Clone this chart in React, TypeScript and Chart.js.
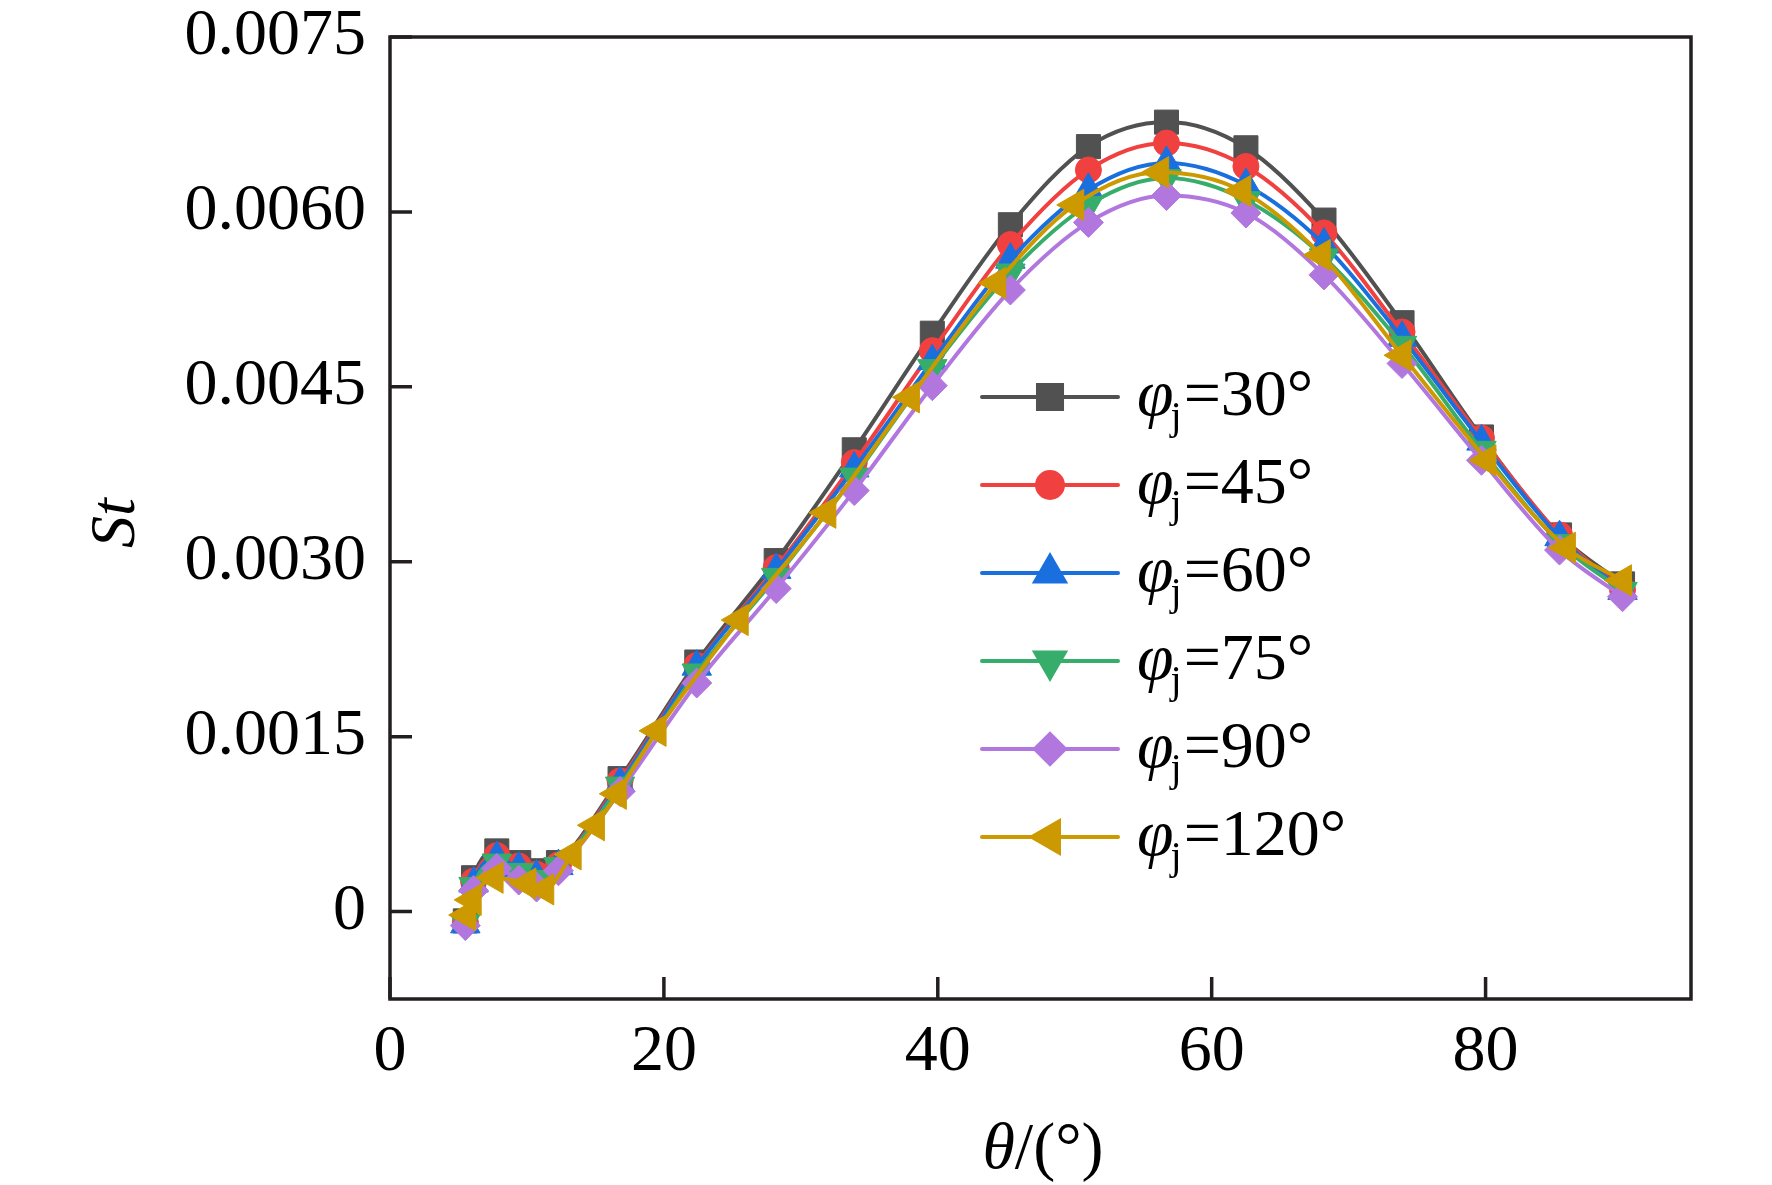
import { useEffect, useRef } from 'react';
import { Chart, registerables } from 'chart.js';
import type { Plugin } from 'chart.js';
import { drawPoint } from 'chart.js/helpers';

Chart.register(...registerables);

const SERIF = '"Liberation Serif", "Times New Roman", serif';
const AXIS = '#231f20';

// theta (deg) for the first five series
const THETA_MAIN = [5.5, 6.1, 7.8, 9.4, 10.7, 12.3, 16.8, 22.4, 28.2, 33.9, 39.6, 45.3, 51.0, 56.7, 62.5, 68.2, 73.9, 79.7, 85.4, 90.0];
const ST_30 = [-0.00008, 0.00029, 0.00052, 0.00042, 0.00035, 0.00042, 0.00114, 0.00214, 0.00301, 0.00396, 0.00496, 0.00589, 0.00656, 0.00677, 0.00655, 0.00593, 0.00505, 0.00407, 0.00323, 0.00281];
const ST_45 = [-0.00009, 0.00026, 0.00048, 0.00039, 0.00032, 0.0004, 0.00112, 0.00211, 0.00295, 0.00385, 0.00481, 0.00572, 0.00636, 0.00659, 0.00639, 0.00582, 0.00497, 0.00406, 0.00323, 0.00276];
const ST_60 = [-0.00011, 0.00024, 0.00046, 0.00037, 0.0003, 0.00039, 0.0011, 0.0021, 0.00293, 0.0038, 0.00472, 0.00559, 0.00619, 0.00642, 0.00623, 0.00572, 0.00492, 0.00403, 0.00321, 0.00275];
const ST_75 = [-0.0001, 0.00022, 0.00042, 0.00034, 0.00028, 0.00039, 0.00108, 0.00205, 0.00287, 0.00373, 0.00466, 0.00548, 0.00606, 0.00629, 0.0061, 0.00561, 0.00486, 0.00396, 0.00316, 0.00275];
const ST_90 = [-0.00012, 0.00018, 0.00037, 0.00027, 0.00021, 0.00035, 0.00103, 0.00196, 0.00277, 0.00361, 0.00451, 0.00533, 0.00591, 0.00614, 0.00599, 0.00546, 0.0047, 0.00387, 0.0031, 0.0027];

// phi_j = 120 deg has its own theta grid
const THETA_120 = [5.6, 6.0, 7.6, 10.0, 11.3, 13.3, 15.0, 16.6, 19.5, 25.5, 31.9, 38.0, 44.3, 50.0, 56.2, 62.2, 68.0, 73.9, 80.1, 85.9, 90.0];
const ST_120 = [-0.00003, 0.0001, 0.00029, 0.00024, 0.00019, 0.00049, 0.00074, 0.00101, 0.00155, 0.0025, 0.00342, 0.00441, 0.00539, 0.00606, 0.00634, 0.00618, 0.00563, 0.00477, 0.00387, 0.00312, 0.00284];

const PHI_LABELS = ['30°', '45°', '60°', '75°', '90°', '120°'];
const X_TICKS = [0, 20, 40, 60, 80];
const Y_TICKS = [0, 0.0015, 0.003, 0.0045, 0.006, 0.0075];

const SERIES = [
  { x: THETA_MAIN, y: ST_30, color: '#515151', style: 'rect', rot: 0, r: 17 },
  { x: THETA_MAIN, y: ST_45, color: '#F14040', style: 'circle', rot: 0, r: 13 },
  { x: THETA_MAIN, y: ST_60, color: '#1A6FDF', style: 'triangle', rot: 0, r: 17 },
  { x: THETA_MAIN, y: ST_75, color: '#37AD6B', style: 'triangle', rot: 180, r: 17 },
  { x: THETA_MAIN, y: ST_90, color: '#B177DE', style: 'rectRot', rot: 0, r: 15 },
  { x: THETA_120, y: ST_120, color: '#CC9900', style: 'triangle', rot: -90, r: 18 }
];

const decor: Plugin<'line'> = {
  id: 'decor',
  afterDatasetsDraw(chart) {
    const { ctx, chartArea: a, scales } = chart;
    ctx.save();
    ctx.strokeStyle = AXIS;
    ctx.lineWidth = 3.5;

    // ticks pointing inwards, left and bottom only
    ctx.beginPath();
    for (const v of Y_TICKS) {
      const y = scales.y.getPixelForValue(v);
      ctx.moveTo(a.left, y);
      ctx.lineTo(a.left + 22, y);
    }
    for (const v of X_TICKS) {
      const x = scales.x.getPixelForValue(v);
      ctx.moveTo(x, a.bottom);
      ctx.lineTo(x, a.bottom - 22);
    }
    ctx.stroke();
    ctx.strokeRect(a.left, a.top, a.right - a.left, a.bottom - a.top);

    // legend
    SERIES.forEach((s, i) => {
      const cy = 397 + i * 88;
      ctx.strokeStyle = s.color;
      ctx.fillStyle = s.color;
      ctx.lineWidth = 4;
      ctx.lineCap = 'round';
      ctx.beginPath();
      ctx.moveTo(982, cy);
      ctx.lineTo(1118, cy);
      ctx.stroke();
      drawPoint(ctx, { pointStyle: s.style as never, rotation: s.rot, radius: s.r, borderWidth: 1 }, 1050, cy);

      ctx.fillStyle = '#000';
      ctx.textAlign = 'left';
      ctx.textBaseline = 'alphabetic';
      let tx = 1137;
      const base = cy + 18;
      ctx.font = `italic 66px ${SERIF}`;
      ctx.fillText('φ', tx, base);
      tx += ctx.measureText('φ').width - 3;
      ctx.font = `40px ${SERIF}`;
      ctx.fillText('j', tx, base + 14);
      tx += ctx.measureText('j').width + 2;
      ctx.font = `66px ${SERIF}`;
      ctx.fillText('=' + PHI_LABELS[i], tx, base);
    });

    // axis titles
    ctx.fillStyle = '#000';
    ctx.save();
    ctx.translate(117, 523);
    ctx.rotate(-Math.PI / 2);
    ctx.font = `italic 64px ${SERIF}`;
    ctx.textAlign = 'center';
    ctx.textBaseline = 'middle';
    ctx.fillText('St', 0, 0);
    ctx.restore();

    ctx.textAlign = 'left';
    ctx.textBaseline = 'alphabetic';
    ctx.font = `italic 66px ${SERIF}`;
    const w1 = ctx.measureText('θ').width;
    ctx.font = `66px ${SERIF}`;
    const w2 = ctx.measureText('/(°)').width;
    const x0 = 1043 - (w1 + w2) / 2;
    ctx.font = `italic 66px ${SERIF}`;
    ctx.fillText('θ', x0, 1168);
    ctx.font = `66px ${SERIF}`;
    ctx.fillText('/(°)', x0 + w1, 1168);
    ctx.restore();
  }
};

export default function App() {
  const ref = useRef<HTMLCanvasElement | null>(null);

  useEffect(() => {
    if (!ref.current) return;
    const chart = new Chart(ref.current, {
      type: 'line',
      data: {
        datasets: SERIES.map((s, i) => ({
          label: PHI_LABELS[i],
          data: s.x.map((x, k) => ({ x, y: s.y[k] })),
          borderColor: s.color,
          backgroundColor: s.color,
          borderWidth: 4,
          cubicInterpolationMode: 'monotone' as const,
          pointStyle: s.style as never,
          pointRotation: s.rot,
          pointRadius: s.r,
          pointBackgroundColor: s.color,
          pointBorderColor: s.color,
          pointBorderWidth: 1,
          order: SERIES.length - i,
          clip: false as never
        }))
      },
      options: {
        responsive: true,
        maintainAspectRatio: false,
        animation: false,
        layout: { padding: { top: 37, right: 81, left: 0, bottom: 0 } },
        plugins: { legend: { display: false }, tooltip: { enabled: false } },
        scales: {
          x: {
            type: 'linear',
            min: 0,
            max: 95,
            grid: { display: false, drawTicks: false },
            border: { display: false },
            afterBuildTicks: (s) => {
              s.ticks = X_TICKS.map((v) => ({ value: v }));
            },
            afterFit: (s) => {
              s.height = 186;
              s.paddingLeft = 0;
              s.paddingRight = 0;
            },
            ticks: {
              color: '#000',
              font: { family: SERIF, size: 66 },
              padding: 14,
              maxRotation: 0,
              autoSkip: false,
              callback: (v) => String(v)
            }
          },
          y: {
            type: 'linear',
            min: -0.00075,
            max: 0.0075,
            grid: { display: false, drawTicks: false },
            border: { display: false },
            afterBuildTicks: (s) => {
              s.ticks = Y_TICKS.map((v) => ({ value: v }));
            },
            afterFit: (s) => {
              s.width = 390;
              s.paddingTop = 0;
              s.paddingBottom = 0;
            },
            ticks: {
              color: '#000',
              font: { family: SERIF, size: 66 },
              padding: 24,
              autoSkip: false,
              callback: (v) => (Number(v) === 0 ? '0' : Number(v).toFixed(4))
            }
          }
        }
      },
      plugins: [decor]
    });
    return () => chart.destroy();
  }, []);

  return (
    <div style={{ position: 'fixed', left: 0, top: 0, width: 1772, height: 1185, background: '#fff' }}>
      <canvas ref={ref} />
    </div>
  );
}
